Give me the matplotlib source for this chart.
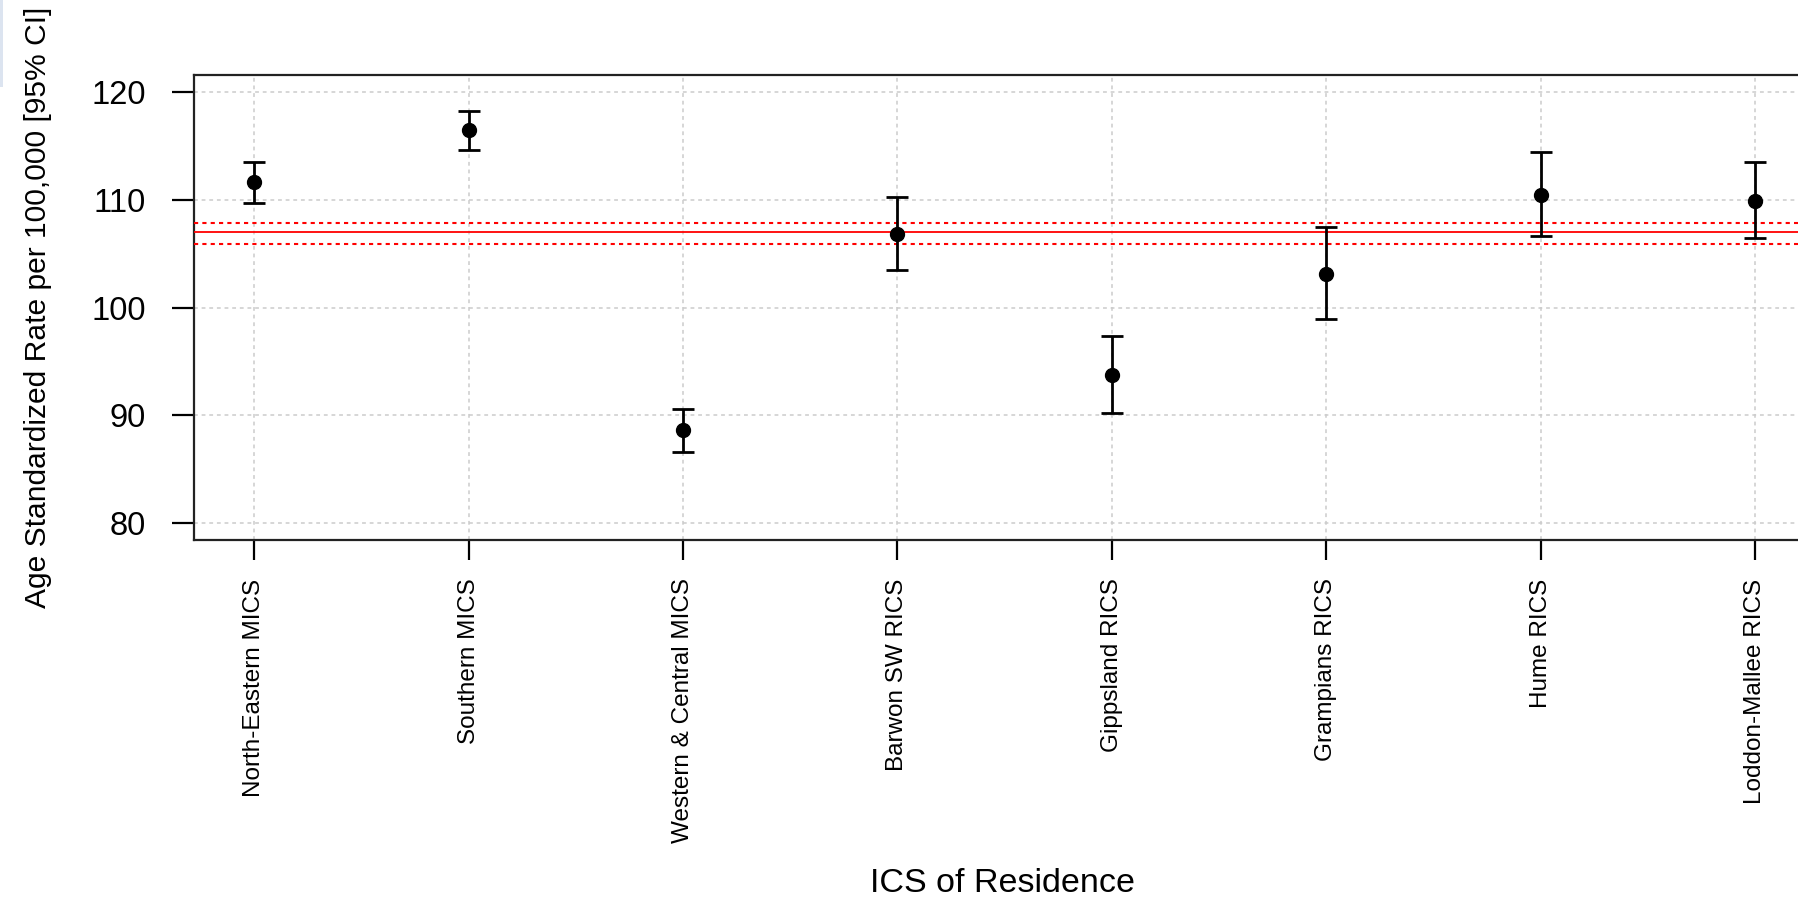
import matplotlib
matplotlib.use('Agg')
import matplotlib.pyplot as plt
from matplotlib.patches import Rectangle

categories = ["North-Eastern MICS", "Southern MICS", "Western & Central MICS",
              "Barwon SW RICS", "Gippsland RICS", "Grampians RICS",
              "Hume RICS", "Loddon-Mallee RICS"]
rate = [111.64, 116.51, 88.67, 106.84, 93.73, 103.13, 110.42, 109.92]
lower = [109.72, 114.62, 86.62, 103.47, 90.26, 98.96, 106.61, 106.44]
upper = [113.56, 118.23, 90.62, 110.27, 97.40, 107.51, 114.42, 113.56]
overall_rate = 107.0
overall_lower = 105.95
overall_upper = 107.85
y_ticks = [80, 90, 100, 110, 120]

plt.rcParams['font.family'] = ['Liberation Sans', 'DejaVu Sans']

W, H = 1798, 901
fig = plt.figure(figsize=(W / 100, H / 100), dpi=100)
ax = fig.add_axes([194 / W, 1 - 540.4 / H, (1815.3 - 194) / W, (540.4 - 75) / H])

xpos = list(range(1, len(categories) + 1))
yerr = [[r - l for r, l in zip(rate, lower)], [u - r for u, r in zip(upper, rate)]]

ax.axhline(overall_rate, color='red', lw=1.3, zorder=3)
ax.axhline(overall_lower, color='red', lw=1.5, ls=(0, (2, 2)), zorder=3)
ax.axhline(overall_upper, color='red', lw=1.5, ls=(0, (2, 2)), zorder=3)

ax.errorbar(xpos, rate, yerr=yerr, fmt='o', color='black', ms=10,
            elinewidth=2.0, capsize=8, capthick=2.0, zorder=4)

ax.set_xlim(0.72, 8.28)
ax.set_ylim(78.4, 121.6)
ax.set_xticks(xpos)
ax.set_xticklabels(categories, rotation=90, fontsize=17.5, va='top')
ax.set_yticks(y_ticks)
ax.set_yticklabels([str(v) for v in y_ticks], fontsize=23.5)
ax.tick_params(axis='y', length=15.8, width=1.6, pad=19, colors='black')
ax.tick_params(axis='x', length=14.4, width=1.6, pad=13, colors='black')
ax.grid(True, color='#cccccc', linestyle=(0, (2.5, 2.5)), linewidth=1.1)
ax.set_axisbelow(True)
for s in ax.spines.values():
    s.set_linewidth(1.6)
    s.set_color('#222222')

fig.text(1003 / W, 1 - 883 / H, 'ICS of Residence', ha='center', va='center', fontsize=24.5)
fig.text(38 / W, 1 - 307 / H, 'Age Standardized Rate per 100,000 [95% CI]',
         rotation=90, ha='center', va='center', fontsize=21.6)

fig.patches.append(Rectangle((0, 1 - 87 / H), 3 / W, 87 / H, transform=fig.transFigure,
                             facecolor='#dce4f0', edgecolor='none', figure=fig))

fig.savefig('out.png', dpi=100)
